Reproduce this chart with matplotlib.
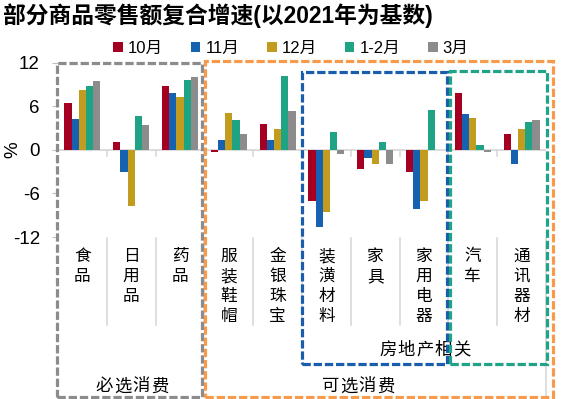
import matplotlib.pyplot as plt
import matplotlib.transforms as mtransforms
from matplotlib.patches import Rectangle
import numpy as np

plt.rcParams['font.family'] = ['Liberation Sans', 'Noto Sans CJK SC', 'DejaVu Sans']

# data
categories = ['食品', '日用品', '药品', '服装鞋帽', '金银珠宝',
              '装潢材料', '家具', '家用电器', '汽车', '通讯器材']
series = ['10月', '11月', '12月', '1-2月', '3月']
m10 = [6.4, 1.0, 8.8, -0.3, 3.6, -7.0, -2.7, -3.1, 7.8, 2.1]
m11 = [4.2, -3.1, 7.8, 1.4, 1.4, -10.6, -1.1, -8.1, 4.9, -2.0]
m12 = [8.2, -7.8, 7.2, 5.0, 2.8, -8.5, -1.9, -7.0, 4.3, 2.9]
m1_2 = [8.8, 4.6, 9.6, 4.1, 10.1, 2.4, 1.1, 5.4, 0.7, 3.8]
m3 = [9.4, 3.4, 10.0, 2.1, 5.3, -0.6, -1.9, 0.0, -0.3, 4.1]
values = [m10, m11, m12, m1_2, m3]
colors = ['#A50021', '#1661B0', '#C29C1F', '#1FA385', '#8C8C8C']
yticks = [-12, -6, 0, 6, 12]

W, H = 570, 399
fig = plt.figure(figsize=(W / 100, H / 100), dpi=100)


def fx(px):
    return px / W


def fy(px):
    return 1 - px / H


ax = fig.add_axes([fx(58), fy(237), fx(546) - fx(58), fy(62.5) - fy(237)])

n = len(categories)
x = np.arange(n)
bw = 0.148
handles = []
for j, (vals, c) in enumerate(zip(values, colors)):
    h = ax.bar(x + (j - 2) * bw, vals, width=bw, color=c, zorder=3)
    handles.append(h)

ax.axhline(0, color='#d9d9d9', lw=1.3, zorder=2)
ax.set_yticks(yticks)
ax.set_yticklabels([str(t) for t in yticks], fontsize=13.5)
ax.set_xticks([])
ax.tick_params(axis='y', length=4, color='#bfbfbf', pad=9)
for s in ax.spines.values():
    s.set_visible(False)

blend = mtransforms.blended_transform_factory(ax.transData, fig.transFigure)
for b in np.arange(1, n) - 0.5:
    ax.plot([b, b], [0, -0.8], color='#d9d9d9', lw=1.2, clip_on=False)
    ax.plot([b, b], [fy(238), fy(325)], color='#d9d9d9', lw=1.2,
            transform=blend, clip_on=False)
ax.plot([n - 0.5, n - 0.5], [fy(238), fy(397)], color='#d9d9d9', lw=1.2,
        transform=blend, clip_on=False)
ax.set_xlim(-0.5, n - 0.5)
ax.set_ylim(-12, 12)

# vertical category labels, one character per line
for i, name in enumerate(categories):
    for k, ch in enumerate(name):
        ax.text(i, fy(256.5 + 20 * k), ch, transform=blend, ha='center',
                va='center', fontsize=12, family='Noto Sans CJK SC')

# title, axis label, legend
fig.text(fx(3), fy(16), '部分商品零售额复合增速(以2021年为基数)', fontsize=16.4,
         fontweight='bold', ha='left', va='center',
         family=['Liberation Sans', 'Noto Sans CJK SC'])
fig.text(fx(13), fy(150), '%', rotation=90, fontsize=13.5, ha='center', va='center')
fig.legend(handles, series, loc='center', bbox_to_anchor=(fx(291), fy(48)),
           ncol=5, frameon=False, fontsize=12, handlelength=0.55,
           handleheight=0.55, handletextpad=0.3, columnspacing=1.7,
           borderpad=0, borderaxespad=0)

# dashed group boxes
boxes = [
    (56.7, 62.7, 201.7, 396.7, '#8C8C8C'),
    (205, 61, 552.7, 396.7, '#F89A4C'),
    (301.7, 71.7, 446.7, 364, '#1A5DAD'),
    (450, 71, 546.7, 364, '#20A386'),
]
for x0, y0, x1, y1, c in boxes:
    fig.add_artist(Rectangle((fx(x0), fy(y1)), fx(x1) - fx(x0), fy(y0) - fy(y1),
                             transform=fig.transFigure, fill=False, edgecolor=c,
                             lw=2.3, linestyle=(0, (2.6, 0.9)), zorder=5))

# group captions, characters slightly spaced apart
captions = [('必选消费', 131.7, 386.5), ('可选消费', 358, 386.5),
            ('房地产相关', 425, 350)]
for label, cx, cy in captions:
    pitch = 18.5
    start = cx - pitch * (len(label) - 1) / 2
    for k, ch in enumerate(label):
        fig.text(fx(start + pitch * k), fy(cy), ch, fontsize=12.5, ha='center',
                 va='center', family='Noto Sans CJK SC', zorder=1)

fig.savefig('out.png', dpi=100)
